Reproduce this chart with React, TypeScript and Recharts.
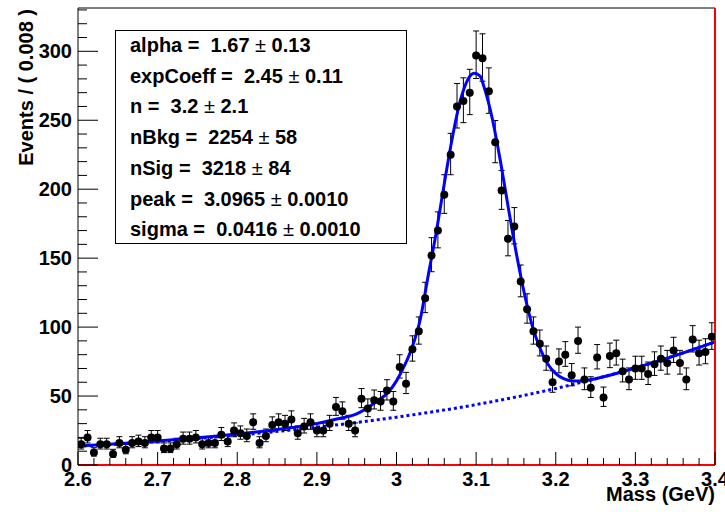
import React from 'react';
import { ComposedChart, XAxis, YAxis, Line, Scatter, ErrorBar, ReferenceLine } from 'recharts';

const FONT = '"Liberation Sans", Arial, Helvetica, sans-serif';

// binning: 100 bins of 0.008 GeV from 2.6 to 3.4
const MASS_MIN = 2.6;
const BIN_WIDTH = 0.008;

// events per bin
const COUNTS = [
  15, 20, 9, 15, 15, 8, 16, 11, 16, 17,
  16, 20, 20, 12, 12, 15, 19, 19, 20, 15,
  16, 16, 22, 17, 25, 23, 21, 31, 16, 21,
  29, 31, 30, 33, 23, 28, 31, 25, 25, 30,
  42, 39, 30, 25, 48, 41, 47, 46, 54, 46,
  71, 59, 84, 97, 121, 152, 170, 196, 225, 260,
  264, 270, 297, 295, 271, 234, 199, 164, 173, 133,
  113, 97, 88, 77, 60, 75, 80, 65, 90, 62,
  56, 78, 49, 79, 81, 68, 62, 70, 70, 66,
  73, 77, 74, 83, 74, 62, 91, 81, 82, 93,
];

// total fit (signal + background)
const FIT_X = [
  2.6, 2.65, 2.7, 2.75, 2.8, 2.85, 2.9, 2.925, 2.95, 2.975, 2.99, 3.0, 3.01, 3.02, 3.03,
  3.04, 3.05, 3.06, 3.07, 3.08, 3.09, 3.0975, 3.105, 3.11, 3.12, 3.13, 3.14, 3.15, 3.16,
  3.17, 3.18, 3.19, 3.2, 3.21, 3.22, 3.23, 3.24, 3.25, 3.3, 3.35, 3.4,
];
const FIT_Y = [
  13.7, 15.4, 17.4, 19.7, 22.4, 25.8, 30, 33.3, 37, 46, 53, 61, 72, 86, 106,
  138, 169, 204, 237, 264, 280, 284, 282, 274, 252, 222, 188, 155, 126,
  102, 85, 73.3, 66.3, 62.6, 61, 60.9, 61.5, 62.6, 70.4, 79.3, 89.2,
];

// background component (dotted)
const BKG_X = [2.6, 2.7, 2.8, 2.9, 3.0, 3.1, 3.2, 3.3, 3.4];
const BKG_Y = [13.5, 17.1, 21.6, 27.4, 34.7, 43.8, 55.5, 70.4, 89.2];

const X_TICKS = [
  2.6, 2.62, 2.64, 2.66, 2.68, 2.7, 2.72, 2.74, 2.76, 2.78,
  2.8, 2.82, 2.84, 2.86, 2.88, 2.9, 2.92, 2.94, 2.96, 2.98,
  3.0, 3.02, 3.04, 3.06, 3.08, 3.1, 3.12, 3.14, 3.16, 3.18,
  3.2, 3.22, 3.24, 3.26, 3.28, 3.3, 3.32, 3.34, 3.36, 3.38, 3.4,
];
const Y_TICKS = [
  0, 10, 20, 30, 40, 50, 60, 70, 80, 90, 100, 110, 120, 130, 140, 150, 160,
  170, 180, 190, 200, 210, 220, 230, 240, 250, 260, 270, 280, 290, 300, 310, 320, 330,
];
const Y_MAX = 331.4;

const PARAMS = [
  ['alpha', '1.67', '0.13'],
  ['expCoeff', '2.45', '0.11'],
  ['n', '3.2', '2.1'],
  ['nBkg', '2254', '58'],
  ['nSig', '3218', '84'],
  ['peak', '3.0965', '0.0010'],
  ['sigma', '0.0416', '0.0010'],
];

const points = COUNTS.map((n, i) => {
  const s = Math.sqrt(n + 0.25);
  return { x: MASS_MIN + BIN_WIDTH * (i + 0.5), y: n, err: [n - (s - 0.5) * (s - 0.5) > 0 ? s - 0.5 : s - 0.5, s + 0.5] };
});
const fitData = FIT_X.map((x, i) => ({ x, y: FIT_Y[i] }));
const bkgData = BKG_X.map((x, i) => ({ x, y: BKG_Y[i] }));

const XTick = (props: any) => {
  const { x, y, payload } = props;
  const v = payload.value;
  const major = Math.abs(v * 10 - Math.round(v * 10)) < 1e-6;
  return (
    <g>
      <line x1={x} y1={y} x2={x} y2={y - (major ? 13 : 7)} stroke="#000" strokeWidth={1} />
      {major && (
        <text x={x} y={y + 21} textAnchor="middle" fontFamily={FONT} fontWeight="bold" fontSize={20} fill="#000">
          {String(Math.round(v * 10) / 10)}
        </text>
      )}
    </g>
  );
};

const YTick = (props: any) => {
  const { x, y, payload } = props;
  const v = payload.value;
  const major = v % 50 === 0;
  return (
    <g>
      <line x1={x} y1={y} x2={x + (major ? 20 : 9)} y2={y} stroke="#000" strokeWidth={1} />
      {major && (
        <text x={x - 6} y={y + 7} textAnchor="end" fontFamily={FONT} fontWeight="bold" fontSize={20} fill="#000">
          {v}
        </text>
      )}
    </g>
  );
};

const Dot = (props: any) => {
  const { cx, cy } = props;
  if (cx == null || cy == null) return null;
  return <circle cx={cx} cy={cy} r={4} fill="#000" />;
};

export default function App() {
  return (
    <div style={{ position: 'absolute', left: 0, top: 0, width: 725, height: 512, background: '#fff' }}>
      <ComposedChart width={725} height={512} margin={{ top: 8, right: 10, bottom: 0, left: 0 }}>
        <XAxis
          type="number"
          dataKey="x"
          domain={[2.6, 3.4]}
          ticks={X_TICKS}
          interval={0}
          height={47}
          tickSize={0}
          tickMargin={0}
          tick={<XTick />}
          axisLine={false}
          allowDataOverflow
        />
        <YAxis
          type="number"
          dataKey="y"
          domain={[0, Y_MAX]}
          ticks={Y_TICKS}
          interval={0}
          width={78}
          tickSize={0}
          tickMargin={0}
          tick={<YTick />}
          axisLine={{ stroke: '#000', strokeWidth: 1 }}
          allowDataOverflow
        />
        <Line
          data={bkgData}
          dataKey="y"
          type="monotone"
          stroke="#0000ff"
          strokeWidth={3}
          strokeDasharray="3 3"
          dot={false}
          activeDot={false}
          isAnimationActive={false}
        />
        <Scatter data={points} dataKey="y" shape={<Dot />} isAnimationActive={false}>
          <ErrorBar dataKey="err" direction="y" width={3} stroke="#000" strokeWidth={1} isAnimationActive={false} />
        </Scatter>
        <Line
          data={fitData}
          dataKey="y"
          type="monotone"
          stroke="#0000ff"
          strokeWidth={3}
          dot={false}
          activeDot={false}
          isAnimationActive={false}
        />
        <ReferenceLine y={Y_MAX} stroke="#000" strokeWidth={1} />
        <ReferenceLine y={0} stroke="#ff0000" strokeWidth={2} />
        <ReferenceLine x={3.4} stroke="#ff0000" strokeWidth={2} />
      </ComposedChart>
      <svg width={725} height={512} style={{ position: 'absolute', left: 0, top: 0, pointerEvents: 'none' }}>
        <rect x={115.5} y={30.5} width={291} height={213} fill="#fff" stroke="#000" strokeWidth={1} />
        {PARAMS.map(([name, val, err], i) => (
          <text
            key={name}
            x={130}
            y={52 + i * 30.7}
            fontFamily={FONT}
            fontWeight="bold"
            fontSize={20}
            fill="#000"
            style={{ whiteSpace: 'pre' }}
          >
            {`${name} =  ${val} `}
            <tspan fontWeight="normal">±</tspan>
            {` ${err}`}
          </text>
        ))}
        <text
          transform="translate(33,9) rotate(-90)"
          textAnchor="end"
          fontFamily={FONT}
          fontWeight="bold"
          fontSize={20}
          fill="#000"
        >
          Events / ( 0.008 )
        </text>
        <text x={715} y={501} textAnchor="end" fontFamily={FONT} fontWeight="bold" fontSize={20} fill="#000">
          Mass (GeV)
        </text>
      </svg>
    </div>
  );
}
